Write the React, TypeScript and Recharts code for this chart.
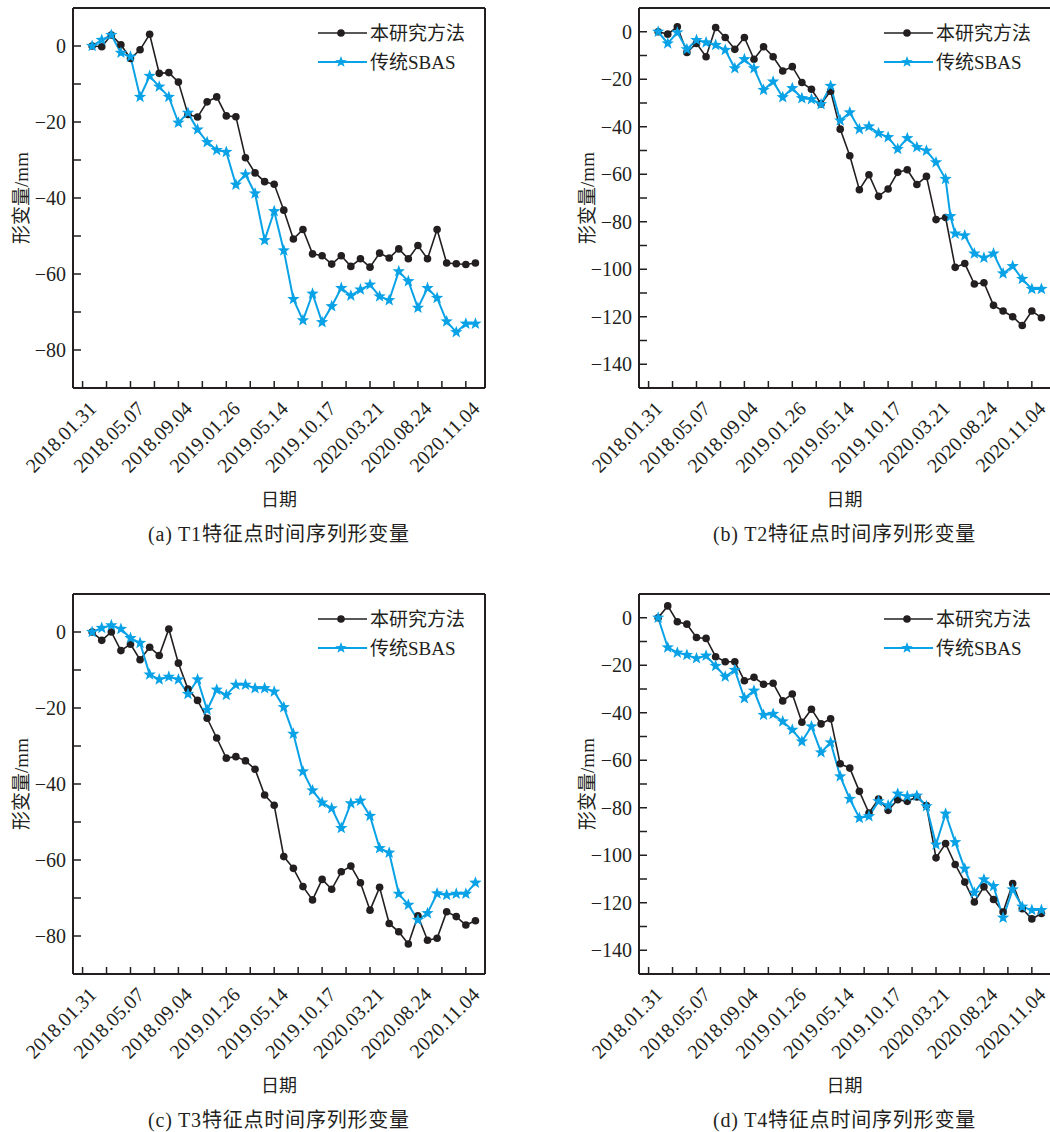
import { LineChart, Line, XAxis, YAxis, ReferenceLine } from 'recharts';

const INK = '#231f20';
const BLUE = '#0aa2e6';
const SERIF = "'Liberation Serif', 'Noto Sans CJK SC', serif";

// tick labels on the date axis (every other tick carries a label)
const dateLabels = ['2018.01.31', '2018.05.07', '2018.09.04', '2019.01.26', '2019.05.14', '2019.10.17', '2020.03.21', '2020.08.24', '2020.11.04'];
const xTicks = [-1, 1.5, 4, 6.5, 9, 11.5, 14, 16.5, 19, 21.5, 24, 26.5, 29, 31.5, 34, 36.5, 39];

const legendNames = ['本研究方法', '传统SBAS'];

// T1
const t1Method = [0, -0.2, 2.9, 0.3, -3.3, -1.0, 3.1, -7.2, -7.0, -9.5, -18.0, -18.7, -14.7, -13.4, -18.4, -18.6, -29.4, -33.4, -35.7, -36.4, -43.2, -50.8, -48.3, -54.7, -55.2, -57.4, -55.2, -58.0, -56.0, -58.2, -54.5, -55.8, -53.4, -56.0, -52.5, -56.0, -48.3, -57.1, -57.3, -57.5, -57.1];
const t1Sbas = [0, 1.6, 2.9, -1.8, -2.8, -13.4, -7.9, -10.7, -13.4, -20.2, -17.6, -22.0, -25.3, -27.4, -27.9, -36.5, -33.8, -38.8, -51.1, -43.5, -53.8, -66.6, -72.2, -65.2, -72.7, -68.5, -63.7, -65.7, -64.1, -62.8, -65.9, -66.9, -59.3, -61.9, -68.9, -63.7, -66.3, -72.5, -75.3, -73.1, -73.1];

// T2
const t2Method = [0, -1.0, 2.1, -8.7, -4.9, -10.5, 1.8, -2.4, -7.4, -2.4, -11.6, -6.3, -10.5, -16.5, -14.7, -21.4, -24.2, -30.4, -25.0, -41.0, -52.2, -66.5, -60.2, -69.3, -66.2, -59.2, -58.1, -64.3, -60.9, -79.1, -78.2, -99.2, -97.6, -106.2, -105.7, -115.2, -117.6, -120.0, -123.7, -117.6, -120.4];
const t2Sbas = [0, -4.9, -0.3, -7.4, -3.5, -4.5, -5.6, -7.7, -15.4, -11.6, -15.4, -24.5, -21.0, -27.6, -23.8, -28.0, -28.4, -30.5, -22.8, -37.4, -34.0, -41.0, -39.9, -42.7, -44.4, -49.4, -44.8, -48.6, -50.1, -55.0, -62.0, -77.7, -85.0, -85.8, -93.4, -95.2, -93.4, -101.8, -98.7, -104.1, -108.3, -108.3];
const t2SbasPos = [0, 1, 2, 3, 4, 5, 6, 7, 8, 9, 10, 11, 12, 13, 14, 15, 16, 17, 18, 19, 20, 21, 22, 23, 24, 25, 26, 27, 28, 29, 30, 30.5, 31, 32, 33, 34, 35, 36, 37, 38, 39, 40];

// T3
const t3Method = [0, -2.2, 0, -4.9, -3.2, -7.3, -4.0, -6.2, 0.8, -8.2, -15.0, -18.0, -22.7, -27.9, -33.2, -32.8, -33.9, -36.1, -42.9, -45.6, -59.1, -62.2, -67.0, -70.5, -65.1, -67.7, -63.1, -61.6, -66.0, -73.2, -67.2, -76.7, -78.9, -82.1, -74.7, -81.1, -80.6, -73.6, -74.9, -77.1, -76.0];
const t3Sbas = [0, 1.05, 1.76, 0.8, -1.6, -2.9, -11.2, -12.5, -11.8, -12.5, -16.3, -12.5, -20.5, -15.2, -16.6, -13.9, -13.9, -14.8, -14.8, -15.7, -19.8, -26.8, -36.7, -41.7, -44.9, -46.4, -51.6, -45.1, -44.4, -48.4, -56.9, -58.1, -68.9, -71.8, -75.8, -74.0, -68.8, -69.2, -68.9, -68.9, -66.0];

// T4
const t4Method = [0, 5.0, -1.7, -2.7, -8.3, -8.7, -16.4, -18.5, -18.5, -26.5, -25.1, -28.0, -27.6, -35.0, -32.1, -44.0, -38.5, -44.7, -42.5, -61.5, -63.3, -73.1, -82.2, -76.3, -81.1, -76.6, -77.3, -75.5, -79.1, -101.1, -95.1, -103.9, -111.3, -119.7, -113.3, -118.6, -123.9, -111.9, -122.5, -126.8, -124.5];
const t4Sbas = [0, -12.5, -14.7, -15.7, -17.1, -16.0, -20.3, -24.8, -22.0, -33.9, -30.7, -40.9, -40.5, -43.7, -47.2, -52.1, -45.8, -56.7, -52.5, -66.8, -76.3, -84.3, -83.6, -77.3, -79.1, -74.1, -75.2, -74.9, -79.4, -95.5, -82.5, -94.5, -105.7, -115.8, -110.2, -113.0, -126.3, -114.4, -121.7, -123.1, -123.1];

const yTicksShallow = [-80, -70, -60, -50, -40, -30, -20, -10, 0];
const yTicksDeep = [-140, -130, -120, -110, -100, -90, -80, -70, -60, -50, -40, -30, -20, -10, 0];

const toPoints = (vals: number[], pos?: number[]) => vals.map((v, i) => ({ t: pos ? pos[i] : i, v }));

const starPath = (cx: number, cy: number, R: number, r: number) => {
  let d = '';
  for (let k = 0; k < 10; k++) {
    const a = -Math.PI / 2 + (k * Math.PI) / 5;
    const rad = k % 2 === 0 ? R : r;
    d += (k === 0 ? 'M' : 'L') + (cx + rad * Math.cos(a)).toFixed(2) + ',' + (cy + rad * Math.sin(a)).toFixed(2);
  }
  return d + 'Z';
};

const StarDot = ({ cx, cy }: any) => {
  if (cx == null || cy == null) return null;
  return <path d={starPath(cx, cy, 6.5, 2.7)} fill={BLUE} />;
};

const XTick = ({ x, y, payload }: any) => {
  const k = Math.round((payload.value + 1) / 2.5);
  const label = k % 2 === 0 ? dateLabels[k / 2] : '';
  const ax = x + 15;
  const ay = y + 22;
  return (
    <g>
      <line x1={x} y1={y} x2={x} y2={y - 7} stroke={INK} strokeWidth={1.5} />
      {label && (
        <text x={ax} y={ay} textAnchor="end" transform={`rotate(-45 ${ax} ${ay})`} fontFamily={SERIF} fontSize={20} fill={INK}>
          {label}
        </text>
      )}
    </g>
  );
};

const YTick = ({ x, y, payload }: any) => {
  const v = payload.value;
  return (
    <g>
      <line x1={x} y1={y} x2={x + 8} y2={y} stroke={INK} strokeWidth={1.5} />
      {v % 20 === 0 && (
        <text x={x - 7} y={y} textAnchor="end" dominantBaseline="central" fontFamily={SERIF} fontSize={20} fill={INK}>
          {v < 0 ? '\u2212' + Math.abs(v) : String(v)}
        </text>
      )}
    </g>
  );
};

const LegendBox = ({ left, top }: { left: number; top: number }) => (
  <svg style={{ position: 'absolute', left, top }} width={200} height={70}>
    <line x1={0} y1={10} x2={49} y2={10} stroke={INK} strokeWidth={1.6} />
    <circle cx={23} cy={10} r={3.8} fill={INK} />
    <text x={52} y={10} dominantBaseline="central" fontFamily={SERIF} fontSize={19} fill={INK}>{legendNames[0]}</text>
    <line x1={0} y1={39} x2={49} y2={39} stroke={BLUE} strokeWidth={2} />
    <path d={starPath(23, 39, 6, 2.5)} fill={BLUE} />
    <text x={52} y={39} dominantBaseline="central" fontFamily={SERIF} fontSize={19} fill={INK}>{legendNames[1]}</text>
  </svg>
);

type PanelProps = {
  left: number;
  top: number;
  method: number[];
  sbas: number[];
  sbasPos?: number[];
  yMin: number;
  yTicks: number[];
  caption: string;
};

const Panel = ({ left, top, method, sbas, sbasPos, yMin, yTicks, caption }: PanelProps) => {
  const plotLeft = left + 73;
  const plotTop = top + 8;
  return (
    <>
      <div style={{ position: 'absolute', left, top }}>
        <LineChart width={525} height={560} margin={{ top: 8, right: 40, bottom: 42, left: 13 }}>
          <XAxis
            type="number"
            dataKey="t"
            domain={[-2, 41]}
            ticks={xTicks}
            interval={0}
            tick={<XTick />}
            tickLine={false}
            tickSize={0}
            tickMargin={0}
            height={130}
            axisLine={{ stroke: INK, strokeWidth: 2 }}
          />
          <YAxis
            type="number"
            domain={[yMin, 10]}
            ticks={yTicks}
            interval={0}
            tick={<YTick />}
            tickLine={false}
            tickSize={0}
            tickMargin={0}
            width={60}
            axisLine={{ stroke: INK, strokeWidth: 2 }}
          />
          <ReferenceLine y={10} stroke={INK} strokeWidth={2} />
          <ReferenceLine x={41} stroke={INK} strokeWidth={2} />
          <Line
            data={toPoints(method)}
            dataKey="v"
            stroke={INK}
            strokeWidth={1.6}
            dot={{ r: 3.8, fill: INK, stroke: INK, strokeWidth: 0 }}
            activeDot={false}
            isAnimationActive={false}
          />
          <Line
            data={toPoints(sbas, sbasPos)}
            dataKey="v"
            stroke={BLUE}
            strokeWidth={2}
            dot={(p: any) => <StarDot key={`s-${p.index}`} cx={p.cx} cy={p.cy} />}
            activeDot={false}
            isAnimationActive={false}
          />
        </LineChart>
      </div>
      <LegendBox left={plotLeft + 245} top={plotTop + 15} />
      <div
        style={{
          position: 'absolute',
          left: left + 13 - 100 + 9,
          top: plotTop + 190 - 13,
          width: 200,
          height: 26,
          lineHeight: '26px',
          textAlign: 'center',
          transform: 'rotate(-90deg)',
          fontFamily: SERIF,
          fontSize: 19,
          color: INK,
          whiteSpace: 'nowrap',
        }}
      >
        形变量/mm
      </div>
      <div
        style={{
          position: 'absolute',
          left: plotLeft,
          width: 412,
          top: top + 487,
          textAlign: 'center',
          fontFamily: SERIF,
          fontSize: 18,
          lineHeight: '26px',
          color: INK,
        }}
      >
        日期
      </div>
      <div
        style={{
          position: 'absolute',
          left: plotLeft - 50,
          width: 512,
          top: top + 523,
          textAlign: 'center',
          fontFamily: SERIF,
          fontSize: 20,
          letterSpacing: 0.8,
          lineHeight: '22px',
          color: INK,
          whiteSpace: 'nowrap',
        }}
      >
        {caption}
      </div>
    </>
  );
};

export default function App() {
  return (
    <div style={{ position: 'absolute', left: 0, top: 0, width: 1050, height: 1132, overflow: 'hidden', background: '#fff' }}>
      <Panel left={0} top={0} method={t1Method} sbas={t1Sbas} yMin={-90} yTicks={yTicksShallow} caption="(a) T1特征点时间序列形变量" />
      <Panel left={565.5} top={0} method={t2Method} sbas={t2Sbas} sbasPos={t2SbasPos} yMin={-150} yTicks={yTicksDeep} caption="(b) T2特征点时间序列形变量" />
      <Panel left={0} top={586} method={t3Method} sbas={t3Sbas} yMin={-90} yTicks={yTicksShallow} caption="(c) T3特征点时间序列形变量" />
      <Panel left={565.5} top={586} method={t4Method} sbas={t4Sbas} yMin={-150} yTicks={yTicksDeep} caption="(d) T4特征点时间序列形变量" />
    </div>
  );
}
